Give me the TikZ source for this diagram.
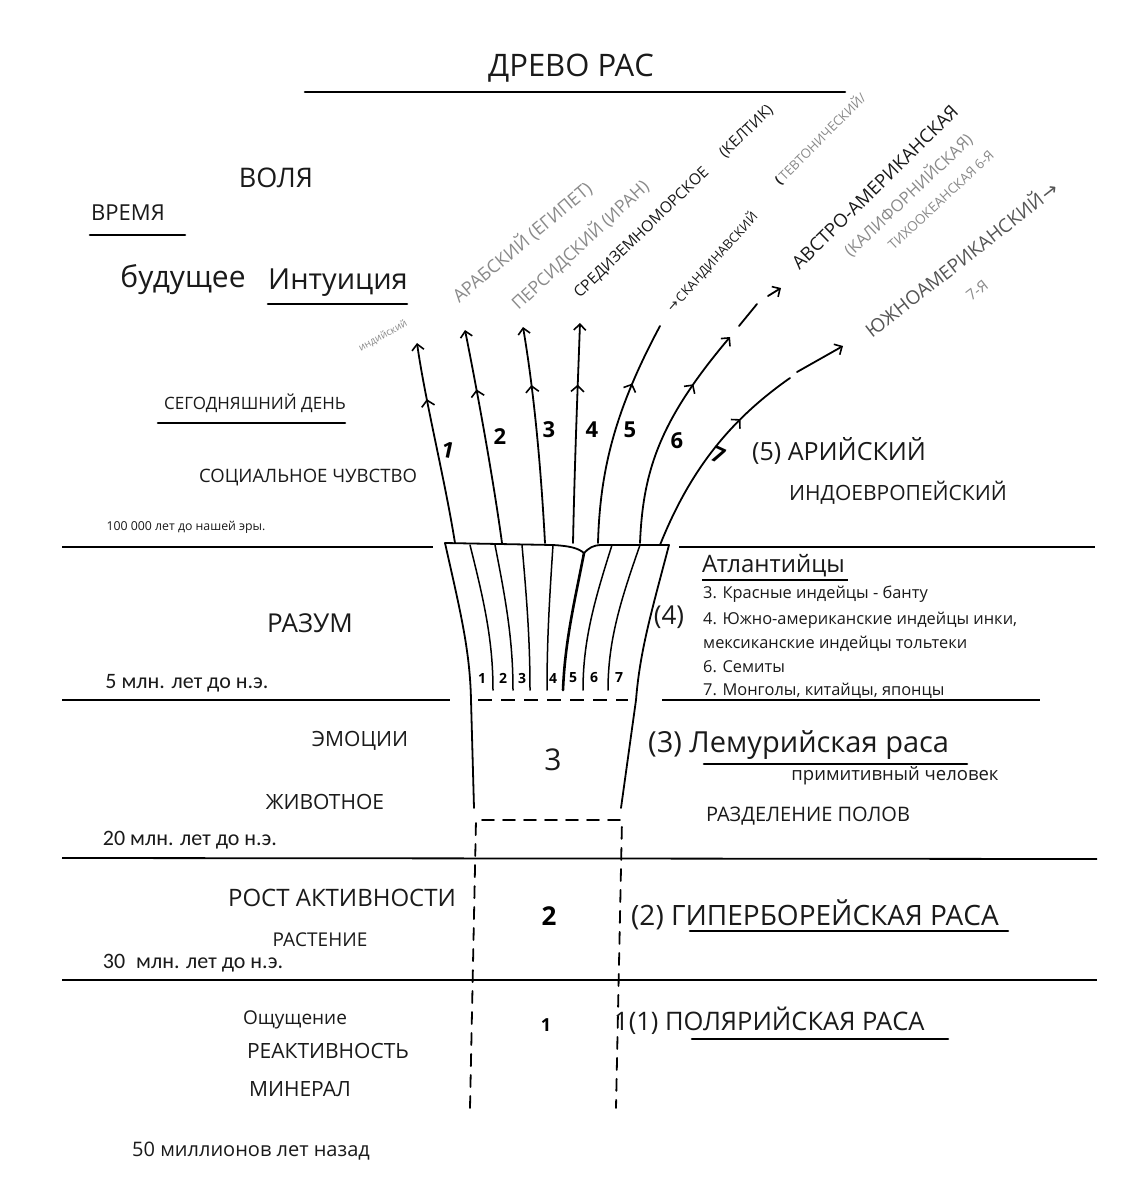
\documentclass[tikz,border=0pt]{standalone}
\usepackage{fontspec}
\setmainfont{Open Sans}
\newfontfamily\datefont{Carlito}
\newfontfamily\symfont{DejaVu Sans}
\usetikzlibrary{arrows.meta,decorations.markings}
\newcommand{\fsz}[1]{\fontsize{#1}{#1}\selectfont}
\definecolor{inkblack}{HTML}{1A1A1A}
\definecolor{inkgrey}{HTML}{8A8A8A}
\definecolor{inkdark}{HTML}{555555}

\tikzset{
  stroke/.style={line width=1.8pt, line cap=round},
  rule/.style={line width=1.8pt},
  uline/.style={line width=2.6pt, line cap=round},
  lbl/.style={inner sep=0pt, text=inkblack},
  hand/.style={inner sep=0pt, font=\bfseries\fsz{#1}},
  slant/.style={inner sep=0pt, rotate=#1},
  midhead/.style={postaction={decorate}, decoration={markings, mark=at position #1 with {\arrow{Straight Barb[length=6pt,width=13pt,line width=1.6pt]}}}},
  tiphead/.style={-{Straight Barb[length=6pt,width=12pt,line width=1.6pt]}}
}

\begin{document}
\begin{tikzpicture}[x=1pt,y=-1pt]
\useasboundingbox[fill=white] (0,0) rectangle (1145,1200);

\node[lbl,font=\fsz{31}] (title) at (571,68) {ДРЕВО РАС};
\draw[uline] (305,92) -- (845,92);

\node[lbl,font=\fsz{27}] (volya) at (276,178) {ВОЛЯ};
\node[lbl,font=\fsz{22}] (vremya) at (128,213) {ВРЕМЯ};
\draw[uline] (90,235) -- (185,235);
\node[lbl,font=\fsz{30}] (future) at (183,280) {будущее};
\node[lbl,font=\fsz{29}] (intuition) at (338,283) {Интуиция};
\draw[uline] (268,304) -- (407,304);
\node[lbl,font=\fsz{17}] (today) at (255,403) {СЕГОДНЯШНИЙ ДЕНЬ};
\draw[uline] (158,423) -- (345,423);
\node[lbl,font=\fsz{18.5}] (social) at (308,478) {СОЦИАЛЬНОЕ ЧУВСТВО};
\node[lbl,font=\fsz{12.3}] (y100k) at (186,527) {100 000 лет до нашей эры.};
\node[lbl,font=\fsz{26}] (razum) at (310,623) {РАЗУМ};
\node[lbl,font=\datefont\fsz{22}] (y5m) at (187,683) {5 млн. лет до н.э.};
\node[lbl,font=\fsz{21}] (emotions) at (360,741) {ЭМОЦИИ};
\node[lbl,font=\fsz{21}] (animal) at (325,802) {ЖИВОТНОЕ};
\node[lbl,font=\datefont\fsz{22}] (y20m) at (190,840) {20 млн. лет до н.э.};
\node[lbl,font=\fsz{24}] (growth) at (342,898) {РОСТ АКТИВНОСТИ};
\node[lbl,font=\fsz{19}] (plant) at (320,940) {РАСТЕНИЕ};
\node[lbl,font=\datefont\fsz{22}] (y30m) at (193,963) {30\enspace млн. лет до н.э.};
\node[lbl,font=\fsz{19}] (sensation) at (295,1020) {Ощущение};
\node[lbl,font=\fsz{21}] (reactivity) at (328,1051) {РЕАКТИВНОСТЬ};
\node[lbl,font=\fsz{21}] (mineral) at (300,1089) {МИНЕРАЛ};
\node[lbl,font=\fsz{20}] (y50m) at (251,1151) {50 миллионов лет назад};

\draw[rule] (62,547) -- (433,547);
\draw[rule] (679,547) -- (1095,547);
\draw[rule] (62,700) -- (450,700);
\draw[rule,dash pattern=on 14pt off 9pt] (478,700) -- (628,700);
\draw[rule] (662,700) -- (1040,700);
\draw[rule] (62,858) -- (1097,859);
\draw[rule] (62,980) -- (1097,980);

\node[slant=29,font=\fsz{10},text=inkgrey] (indian) at (383,336) {индийский};
\node[slant=40,font=\fsz{18},text=inkgrey] (arab) at (522,242) {АРАБСКИЙ (ЕГИПЕТ)};
\node[slant=43,font=\fsz{17.5},text=inkgrey] (persian) at (580,245) {ПЕРСИДСКИЙ (ИРАН)};
\node[slant=44,font=\fsz{15.5},text=inkblack] (medit) at (674,202) {СРЕДИЗЕМНОМОРСКОЕ\hspace{1.4em}(КЕЛТИК)};
\node[slant=48,font=\fsz{13},text=inkblack] (scand) at (712,262) {{\symfont→}\,СКАНДИНАВСКИЙ};
\node[slant=45,font=\fsz{13},text=inkgrey] (teuton) at (820,139) {\textcolor{inkblack}{\bfseries(}\,ТЕВТОНИЧЕСКИЙ/};
\node[slant=44.5,font=\fsz{18.5},text=inkblack] (austro) at (875,187) {АВСТРО-АМЕРИКАНСКАЯ};
\node[slant=43.5,font=\fsz{16.5},text=inkgrey] (calif) at (908,195) {(КАЛИФОРНИЙСКАЯ)};
\node[slant=43,font=\fsz{13.5},text=inkgrey] (pacific) at (941,200) {ТИХООКЕАНСКАЯ 6-Я};
\node[slant=38,font=\fsz{19},text=inkdark] (southam) at (961,258) {ЮЖНОАМЕРИКАНСКИЙ\,{\symfont→}};
\node[slant=38,font=\fsz{15},text=inkgrey] (seventh) at (977,290) {7-Я};

\coordinate (b1) at (455,543); \coordinate (t1) at (417,343);
\coordinate (b2) at (502,543); \coordinate (t2) at (465,330);
\coordinate (b3) at (545,543); \coordinate (t3) at (523,327);
\coordinate (b4) at (573,543); \coordinate (t4) at (580,323);
\coordinate (b5) at (598,543); \coordinate (t5) at (660,326);
\coordinate (b6) at (640,543); \coordinate (t6) at (730,337);
\coordinate (b7) at (660,545); \coordinate (t7) at (790,378);
\draw[stroke,midhead=0.72,tiphead] (b1) .. controls (445,480) and (425,400) .. (t1);
\draw[stroke,midhead=0.72,tiphead] (b2) .. controls (492,470) and (475,380) .. (t2);
\draw[stroke,midhead=0.73,tiphead] (b3) .. controls (540,450) and (532,380) .. (t3);
\draw[stroke,midhead=0.72,tiphead] (b4) .. controls (575,450) and (578,380) .. (t4);
\draw[stroke,midhead=0.72] (b5) .. controls (600,470) and (615,410) .. (t5);
\draw[stroke,midhead=0.74,tiphead] (b6) .. controls (643,470) and (660,420) .. (t6);
\draw[stroke] (739,326) -- (757,304);
\draw[stroke,tiphead] (768,296) -- (781,288);
\draw[stroke,midhead=0.7] (b7) .. controls (690,470) and (730,420) .. (t7);
\draw[stroke,tiphead] (797,372) -- (843,346);

\node[hand=22,rotate=-12] (n1) at (448,450) {1};
\node[hand=22] (n2) at (500,437) {2};
\node[hand=22] (n3) at (549,430) {3};
\node[hand=22] (n4) at (592,430) {4};
\node[hand=22] (n5) at (630,430) {5};
\node[hand=22] (n6) at (677,441) {6};
\node[hand=22,rotate=-25] (n7) at (718,455) {7};

\draw[stroke] (445,543) -- (553,545) .. controls (570,546) and (578,548) .. (584,553) .. controls (589,548) and (593,545) .. (602,545) -- (669,545);
\draw[stroke] (445,543) .. controls (460,610) and (470,650) .. (471,700) -- (474,808);
\draw[stroke] (669,545) .. controls (652,610) and (640,650) .. (636,700) -- (621,808);
\foreach \xa/\xb in {470/493, 495/513, 522/530, 553/547, 612/583, 640/608}
  \draw[stroke,line width=1.5pt] (\xa,545) .. controls ({\xa+0.6*(\xb-\xa)},600) and (\xb,640) .. (\xb,690);
\draw[stroke,line width=2.6pt] (584,553) .. controls (575,600) and (565,640) .. (563,690);
\foreach \n/\x in {1/482,2/503,3/522,4/553,5/573,6/594,7/619}
  \node[hand=14] (atl\n) at (\x,678) {\n};
\node[lbl,font=\fsz{26}] (four) at (669,617) {(4)};

\draw[stroke,dash pattern=on 12pt off 9pt] (470,1108) -- (476,820) -- (622,820) -- (616,1108);
\node[lbl,font=\fsz{30}] (lemnum) at (553,760) {3};
\node[hand=26] (hypnum) at (549,916) {2};
\node[hand=18] (polnum) at (546,1025) {1};

\node[lbl,anchor=west,font=\fsz{25}] (arian) at (752,451) {(5) АРИЙСКИЙ};
\node[lbl,font=\fsz{21}] (indoeur) at (898,493) {ИНДОЕВРОПЕЙСКИЙ};
\node[lbl,anchor=west,font=\fsz{24}] (atlant) at (702,566) {Атлантийцы};
\draw[line width=1.5pt] (702,580) -- (848,580);
\foreach \y/\t in {594/{3. Красные индейцы - банту}, 620/{4. Южно-американские индейцы инки,}, 644/{мексиканские индейцы тольтеки}, 667/{6. Семиты}, 691/{7. Монголы, китайцы, японцы}}
  \node[lbl,anchor=west,font=\fsz{16.4}] (atlrow\y) at (703,\y) {\t};

\node[lbl,anchor=west,font=\fsz{29}] (lemur) at (648,745) {(3) Лемурийская раса};
\draw[uline] (704,764) -- (967,764);
\node[lbl,font=\fsz{18.5}] (primitive) at (895,776) {примитивный человек};
\node[lbl,font=\fsz{20}] (sexes) at (808,816) {РАЗДЕЛЕНИЕ ПОЛОВ};
\node[lbl,anchor=west,font=\fsz{28}] (hyper) at (631,915) {(2) ГИПЕРБОРЕЙСКАЯ РАСА};
\draw[uline] (690,931) -- (1008,931);
\node[lbl,anchor=west,font=\fsz{25.5}] (polar) at (614,1021) {1(1) ПОЛЯРИЙСКАЯ РАСА};
\draw[uline] (692,1039) -- (948,1039);
\end{tikzpicture}
\end{document}
